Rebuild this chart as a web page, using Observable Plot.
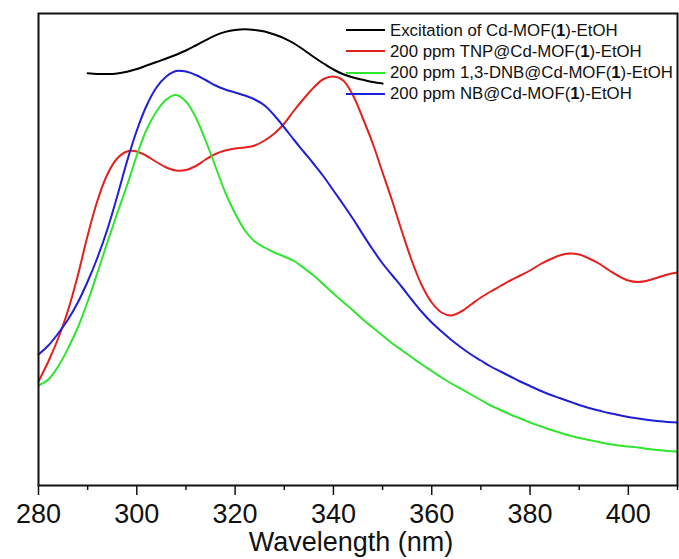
<!DOCTYPE html>
<html>
<head>
<meta charset="utf-8">
<script src="https://cdn.jsdelivr.net/npm/d3@7"></script>
<script src="https://cdn.jsdelivr.net/npm/@observablehq/plot@0.6"></script>
<style>
  html, body { margin: 0; padding: 0; background: #fff; }
  #wrap { position: relative; width: 679px; height: 559px; font-family: "Liberation Sans", Arial, sans-serif; }
  #legend { position: absolute; left: 346px; top: 19.5px; font-size: 16.8px; color: #111; }
  #legend .row { height: 21.3px; line-height: 21.3px; white-space: nowrap; }
  #legend .sw { display: inline-block; width: 39px; height: 2px; vertical-align: middle; margin-right: 5px; position: relative; top: -1px; }
</style>
</head>
<body>
<div id="wrap"><div id="chart"></div><div id="legend"></div></div>
<script>
// Sampling grid (nm)
const wavelengths = [280,282,284,286,288,290,292,294,296,298,300,302,304,306,308,310,312,314,316,318,320,322,324,326,328,330,332,334,336,338,340,342,344,346,348,350,352,354,356,358,360,362,364,366,368,370,372,374,376,378,380,382,384,386,388,390,392,394,396,398,400,402,404,406,408,410];
const excitationWavelengths = [290,292,294,296,298,300,302,304,306,308,310,312,314,316,318,320,322,324,326,328,330,332,334,336,338,340,342,344,346,348,350];

// Series names
const seriesNames = [
  "Excitation of Cd-MOF(1)-EtOH",
  "200 ppm TNP@Cd-MOF(1)-EtOH",
  "200 ppm 1,3-DNB@Cd-MOF(1)-EtOH",
  "200 ppm NB@Cd-MOF(1)-EtOH"
];
const seriesColors = ["#000000", "#e3201c", "#2fe52f", "#1f1fd6"];

// Intensities (a.u.)
const excitation = [412.3,411.6,411.4,412,413.8,416.5,420,423.5,427,430.8,435,440,445.3,450.2,453.6,455.6,456.3,455.6,454,451,447.2,442,435.5,428.5,422,416,411.2,408,405.7,403.5,402];
const tnp = [104,124,147,175,210,250,285,311,327,334,334,329.5,323.5,318,315,315.5,319.5,326,331.5,335,337,338,340,345,352,362,375,387,398,406.5,409,405,390,367,342,313,284,253,224,200,183,173,170,174,181,188,194,199.5,205,210,215,221,226,230,232,231,227,222,215.5,209.5,205,203.5,205,208,211,213];
const dnb = [100,106,119,137,158,184,213,243,272,300,330,356,374,386,390.5,384,368,345,319,293,272,255,244,238,233,229,224.5,217.5,210,201,192,183.5,175,166,158,150,142,135,128,121,114.5,108,102,96.5,91,85.5,80,75.5,71,67,63,59.5,56,53,50,47.5,45.5,43.5,41.5,40,39,38,36.5,35.5,34.5,34];
const nb = [131,140,152,166,183,204,228,256,289,324,355,380,398,409,414.5,414,410.5,405.5,400,396,393,390,386,380,370,358,345.5,333.5,321.5,309,295,281,266.5,251,236,222,210,198,185.5,173.5,163,154,145.5,138,131,125,119,114,109,104,99.5,95,91,87.5,84,80.5,77.5,75,72.5,70.5,68.5,67,65.5,64.5,63.5,63];

// Axis ticks
const majorTicks = [280,300,320,340,360,380,400];
const minorTicks = [290,310,330,350,370,390,410];
const xTitle = "Wavelength (nm)";

const rows = [];
excitation.forEach((v, i) => rows.push({series: seriesNames[0], wl: excitationWavelengths[i], v}));
tnp.forEach((v, i) => rows.push({series: seriesNames[1], wl: wavelengths[i], v}));
dnb.forEach((v, i) => rows.push({series: seriesNames[2], wl: wavelengths[i], v}));
nb.forEach((v, i) => rows.push({series: seriesNames[3], wl: wavelengths[i], v}));

const chart = Plot.plot({
  width: 679,
  height: 559,
  marginLeft: 38,
  marginRight: 2,
  marginTop: 13,
  marginBottom: 74,
  style: {fontFamily: "'Liberation Sans', Arial, sans-serif", background: "#fff", color: "#111"},
  x: {domain: [280, 410]},
  y: {domain: [0, 472], axis: null},
  color: {domain: seriesNames, range: seriesColors},
  marks: [
    Plot.line(rows, {x: "wl", y: "v", z: "series", stroke: "series", strokeWidth: 2, curve: "catmull-rom"}),
    Plot.frame({stroke: "#111", strokeWidth: 2}),
    Plot.axisX({ticks: majorTicks, tickSize: 10, tickPadding: 8, fontSize: 27, strokeWidth: 1.5, label: null, tickFormat: d => String(d)}),
    Plot.axisX({ticks: minorTicks, tickSize: 5, strokeWidth: 1.5, label: null, tickFormat: () => ""}),
    Plot.text([xTitle], {text: d => d, frameAnchor: "bottom", lineAnchor: "top", dy: 46, dx: -7, fontSize: 27})
  ]
});
document.getElementById("chart").appendChild(chart);

// Legend
const legend = document.getElementById("legend");
seriesNames.forEach((name, i) => {
  const row = document.createElement("div");
  row.className = "row";
  const sw = document.createElement("span");
  sw.className = "sw";
  sw.style.background = seriesColors[i];
  row.appendChild(sw);
  const parts = name.split("(1)");
  row.appendChild(document.createTextNode(parts[0] + "("));
  const b = document.createElement("b");
  b.textContent = "1";
  row.appendChild(b);
  row.appendChild(document.createTextNode(")" + parts[1]));
  legend.appendChild(row);
});
</script>
</body>
</html>
